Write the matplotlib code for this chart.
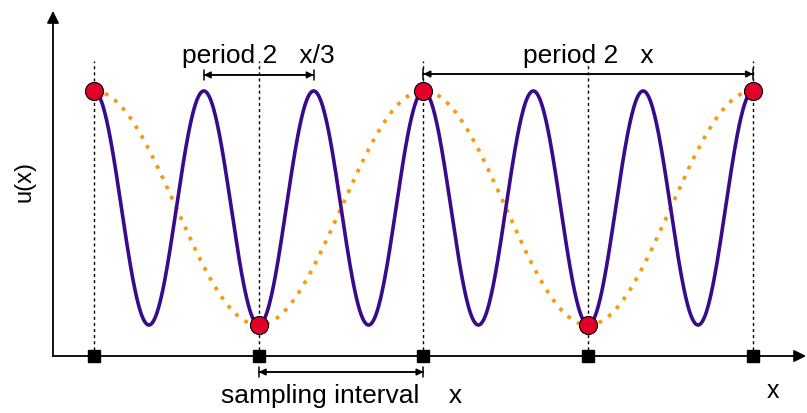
import numpy as np
import matplotlib
matplotlib.use('Agg')
import matplotlib.pyplot as plt

plt.rcParams['font.family'] = ['Liberation Sans', 'DejaVu Sans']

# curves: fast mode cos(3x) aliases onto slow mode cos(x) at sample points
x_min, x_max = 0.0, 4 * np.pi
k_fast = 3
k_slow = 1
samples = np.array([0, 1, 2, 3, 4]) * np.pi
text_period_fast = 'period 2   x/3'
text_period_slow = 'period 2   x'
text_sampling = 'sampling interval    x'
label_x = 'x'
label_y = 'u(x)'

purple = '#3a0a8c'
orange = '#f39c12'
red = '#e0002a'

xx = np.linspace(x_min, x_max, 1000)

fig = plt.figure(figsize=(8.07, 4.14), dpi=100)
ax = fig.add_axes([0, 0, 1, 1])
ax.set_xlim(-1.7925, 13.597)
ax.set_ylim(-1.752, 1.786)
ax.axis('off')

x0, y0 = -0.782, -1.265   # axis corner

# axes with arrows
ax.annotate('', xy=(13.58, y0), xytext=(x0, y0),
            arrowprops=dict(arrowstyle='-|>', color='k', lw=1.3, shrinkA=0, shrinkB=0, mutation_scale=18))
ax.annotate('', xy=(x0, 1.684), xytext=(x0, y0),
            arrowprops=dict(arrowstyle='-|>', color='k', lw=1.3, shrinkA=0, shrinkB=0, mutation_scale=18))

# dotted sample guides
for s in samples:
    ax.plot([s, s], [y0, 1.256], color='k', lw=1.0, ls=(0, (2.2, 2.2)), zorder=1)

ax.plot(xx, np.cos(k_slow * xx), color=orange, lw=2.7, ls=(0, (1, 2.0)), zorder=2)
ax.plot(xx, np.cos(k_fast * xx), color=purple, lw=2.6, zorder=3)
ax.plot(samples, np.cos(k_fast * samples), 'o', ms=13, mfc=red, mec='k', mew=0.8, zorder=4)
ax.plot(samples, np.full(len(samples), y0), 's', ms=8.5, color='k', zorder=4, clip_on=False)


def dim_arrow(xa, xb, y):
    ax.annotate('', xy=(xb, y), xytext=(xa, y),
                arrowprops=dict(arrowstyle='<|-|>', color='k', lw=1.1, shrinkA=0, shrinkB=0, mutation_scale=10))
    ax.annotate('', xy=(xb, y), xytext=(xa, y),
                arrowprops=dict(arrowstyle='|-|, widthA=0.35, widthB=0.35', color='k', lw=1.1,
                                shrinkA=0, shrinkB=0, mutation_scale=10))


period_fast = 2 * np.pi / k_fast
dim_arrow(np.pi - period_fast / 2, np.pi + period_fast / 2, 1.137)
ax.text(np.pi, 1.245, text_period_fast, ha='center', va='baseline', fontsize=19)

dim_arrow(2 * np.pi, 4 * np.pi, 1.145)
ax.text(3 * np.pi, 1.245, text_period_slow, ha='center', va='baseline', fontsize=19)

dim_arrow(np.pi, 2 * np.pi, -1.402)
ax.text(1.5 * np.pi, -1.658, text_sampling, ha='center', va='baseline', fontsize=19)

ax.text(12.95, -1.556, label_x, ha='center', va='center', fontsize=18)
ax.text(-1.316, 0.231, label_y, ha='center', va='center', rotation=90, fontsize=17)

fig.savefig('out.png', dpi=100)
